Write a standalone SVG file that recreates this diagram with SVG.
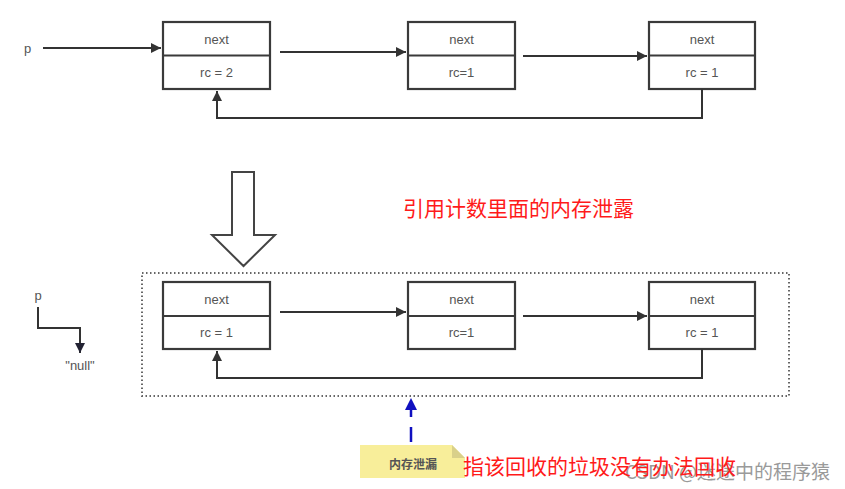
<svg xmlns="http://www.w3.org/2000/svg" width="845" height="489" viewBox="0 0 845 489">
<defs>
<style>
.box{fill:#fff;stroke:#3a3a3a;stroke-width:2.2}
.div{stroke:#3a3a3a;stroke-width:2.2}
.lbl{font-family:"Liberation Sans","Noto Sans",sans-serif;font-size:13px;fill:#555;text-anchor:middle;dominant-baseline:central}
.ln{fill:none;stroke:#333;stroke-width:2}
.red{font-family:"Noto Sans CJK SC",sans-serif;font-size:21px;fill:#ff1a1a}
</style>
<marker id="ahl" viewBox="0 0 10 10" refX="10" refY="5" markerWidth="14" markerHeight="10" markerUnits="userSpaceOnUse" orient="auto">
<path d="M0,0 L10,5 L0,10 z" fill="#333"/>
</marker>
<marker id="ahb" viewBox="0 0 10 10" refX="10" refY="5" markerWidth="16" markerHeight="12" markerUnits="userSpaceOnUse" orient="auto">
<path d="M0,0 L10,5 L0,10 z" fill="#1010c0"/>
</marker>
<marker id="ahn" viewBox="0 0 10 10" refX="10" refY="5" markerWidth="14" markerHeight="10" markerUnits="userSpaceOnUse" orient="auto">
<path d="M0,0 L10,5 L0,10 z" fill="#223"/>
</marker>
</defs>
<rect width="845" height="489" fill="#fff"/>

<!-- top row -->
<text x="24" y="48" class="lbl" style="text-anchor:start">p</text>
<g id="t1"><rect class="box" x="163" y="22" width="107" height="67"/><line class="div" x1="163" y1="55.5" x2="270" y2="55.5"/><text class="lbl" x="216.5" y="39">next</text><text class="lbl" x="216.5" y="72">rc = 2</text></g>
<g id="t2"><rect class="box" x="408" y="22" width="107" height="67"/><line class="div" x1="408" y1="55.5" x2="515" y2="55.5"/><text class="lbl" x="461.5" y="39">next</text><text class="lbl" x="461.5" y="72">rc=1</text></g>
<g id="t3"><rect class="box" x="649" y="22" width="106" height="67"/><line class="div" x1="649" y1="55.5" x2="755" y2="55.5"/><text class="lbl" x="702" y="39">next</text><text class="lbl" x="702" y="72">rc = 1</text></g>

<!-- bottom row -->
<rect x="142" y="273" width="647" height="123" fill="none" stroke="#666" stroke-width="2" stroke-dasharray="1.5 2.5"/>
<text x="38" y="295" class="lbl" style="text-anchor:middle">p</text>
<text x="80" y="365" class="lbl">"null"</text>
<g id="b1"><rect class="box" x="163" y="282" width="107" height="67"/><line class="div" x1="163" y1="316" x2="270" y2="316"/><text class="lbl" x="216.5" y="299">next</text><text class="lbl" x="216.5" y="332">rc = 1</text></g>
<g id="b2"><rect class="box" x="408" y="282" width="107" height="67"/><line class="div" x1="408" y1="316" x2="515" y2="316"/><text class="lbl" x="461.5" y="299">next</text><text class="lbl" x="461.5" y="332">rc=1</text></g>
<g id="b3"><rect class="box" x="649" y="282" width="106" height="67"/><line class="div" x1="649" y1="316" x2="755" y2="316"/><text class="lbl" x="702" y="299">next</text><text class="lbl" x="702" y="332">rc = 1</text></g>

<g id="bigarrow"><path d="M232,172 H254 V235 H275 L243.5,266 L212,235 H232 Z" fill="#fff" stroke="#444" stroke-width="2"/></g>

<g id="connectors">
<line class="ln" x1="43" y1="48" x2="161" y2="48" marker-end="url(#ahl)"/>
<line class="ln" x1="280" y1="52" x2="406" y2="52" marker-end="url(#ahl)"/>
<line class="ln" x1="523" y1="56" x2="647" y2="56" marker-end="url(#ahl)"/>
<path class="ln" d="M702,89 V118 H217 V91" marker-end="url(#ahl)"/>
<line class="ln" x1="280" y1="312" x2="406" y2="312" marker-end="url(#ahl)"/>
<line class="ln" x1="523" y1="316" x2="647" y2="316" marker-end="url(#ahl)"/>
<path class="ln" d="M702,349 V378 H217 V351" marker-end="url(#ahl)"/>
<path class="ln" d="M38,307 V328 H80 V353" marker-end="url(#ahn)"/>
<line x1="411" y1="442" x2="411" y2="398" stroke="#1010c0" stroke-width="2.5" stroke-dasharray="15 10" marker-end="url(#ahb)"/>
</g>

<g id="note">
<path d="M360,445 H452 L465,458 V478 H360 Z" fill="#f8ee9a"/>
<path d="M452,445 L465,458 H452 Z" fill="#d9d08a"/>
<text x="413" y="463" style="font-family:'Noto Sans CJK SC',sans-serif;font-size:12px;font-weight:bold;fill:#555;text-anchor:middle;dominant-baseline:central">内存泄漏</text>
</g>

<text x="830" y="470" style="font-family:'Noto Sans CJK SC',sans-serif;font-size:19px;fill:#9a9a9a;text-anchor:end;dominant-baseline:central">CSDN @迷途中的程序猿</text>
<text x="403" y="207" class="red" style="dominant-baseline:central">引用计数里面的内存泄露</text>
<text x="463" y="465" class="red" style="dominant-baseline:central">指该回收的垃圾没有办法回收</text>
</svg>
